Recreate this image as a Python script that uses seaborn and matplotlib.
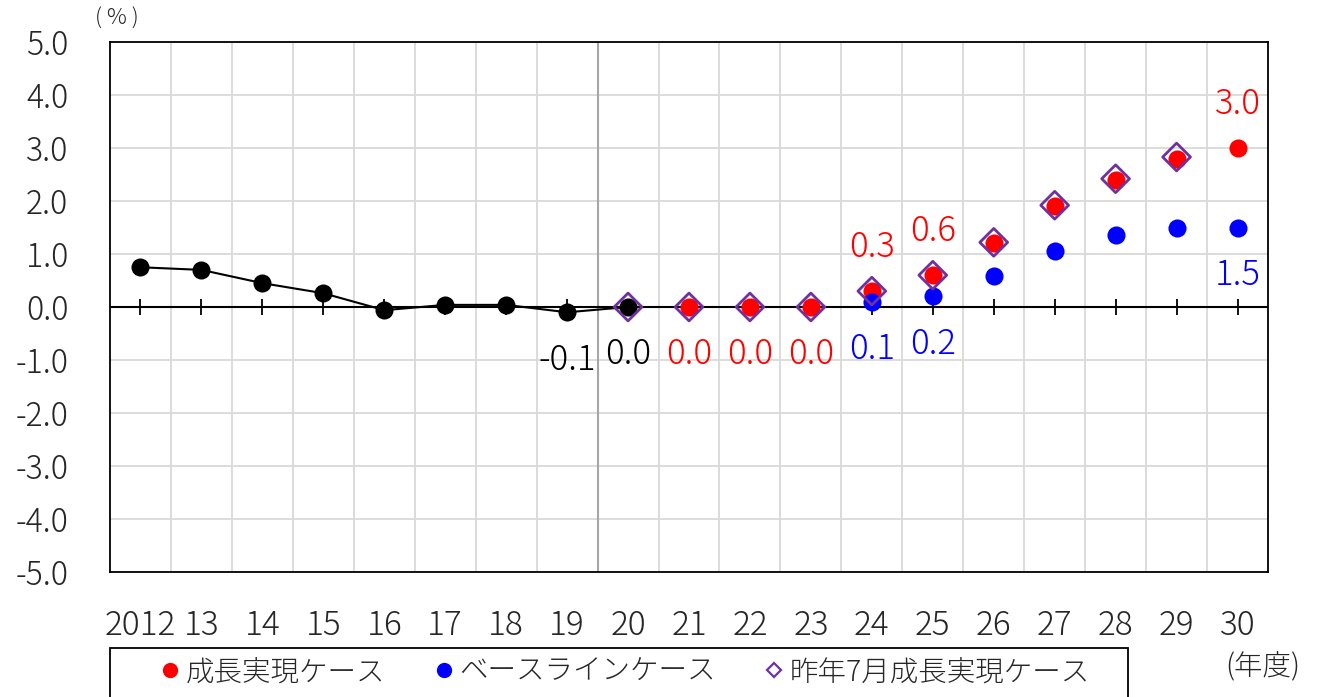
import matplotlib
matplotlib.use("Agg")
import matplotlib.pyplot as plt
from matplotlib.lines import Line2D
from matplotlib.patches import Rectangle
import seaborn as sns
import pandas as pd

# 年度 categories (fiscal years)
years = ["2012", "13", "14", "15", "16", "17", "18", "19", "20",
         "21", "22", "23", "24", "25", "26", "27", "28", "29", "30"]

# actual results 2012-2020
actual_years = ["2012", "13", "14", "15", "16", "17", "18", "19", "20"]
actual_vals = [0.75, 0.70, 0.45, 0.26, -0.06, 0.04, 0.04, -0.1, 0.0]

# 成長実現ケース
growth_years = ["21", "22", "23", "24", "25", "26", "27", "28", "29", "30"]
growth_vals = [0.0, 0.0, 0.0, 0.3, 0.6, 1.2, 1.9, 2.4, 2.8, 3.0]

# ベースラインケース
base_years = ["24", "25", "26", "27", "28", "29", "30"]
base_vals = [0.1, 0.2, 0.58, 1.06, 1.36, 1.49, 1.5]

# 昨年7月成長実現ケース
prev_years = ["20", "21", "22", "23", "24", "25", "26", "27", "28", "29"]
prev_vals = [0.0, 0.0, 0.0, 0.0, 0.3, 0.6, 1.22, 1.92, 2.42, 2.83]

# value labels: (year, value, colour, above?)
labels = [
    ("19", -0.1, "black", False),
    ("20", 0.0, "black", False),
    ("21", 0.0, "red", False),
    ("22", 0.0, "red", False),
    ("23", 0.0, "red", False),
    ("24", 0.1, "blue", False),
    ("25", 0.2, "blue", False),
    ("24", 0.3, "red", True),
    ("25", 0.6, "red", True),
    ("30", 3.0, "red", True),
    ("30", 1.5, "blue", False),
]

yticks = [5.0, 4.0, 3.0, 2.0, 1.0, 0.0, -1.0, -2.0, -3.0, -4.0, -5.0]

sns.set_theme(style="white")
plt.rcParams["font.family"] = ["Noto Sans CJK JP", "DejaVu Sans"]
plt.rcParams["font.weight"] = "light"

pos = {y: i for i, y in enumerate(years)}

df_act = pd.DataFrame({"x": [pos[y] for y in actual_years], "v": actual_vals})
df_gro = pd.DataFrame({"x": [pos[y] for y in growth_years], "v": growth_vals})
df_bas = pd.DataFrame({"x": [pos[y] for y in base_years], "v": base_vals})
df_prv = pd.DataFrame({"x": [pos[y] for y in prev_years], "v": prev_vals})

W, H = 1317, 697
fig = plt.figure(figsize=(W / 100, H / 100), dpi=100)
ax = fig.add_axes([110 / W, 1 - 572 / H, (1268 - 110) / W, (572 - 42) / H])

RED = "#FF0000"
BLUE = "#0000FF"
PURPLE = "#7030A0"

# zero line
ax.axhline(0, color="black", linewidth=1.5, zorder=2)

sns.lineplot(data=df_act, x="x", y="v", ax=ax, color="black", linewidth=1.5,
             marker="o", markersize=13, markeredgewidth=0, zorder=3)
sns.scatterplot(data=df_gro, x="x", y="v", ax=ax, color=RED, s=170,
                linewidth=0, zorder=4)
sns.scatterplot(data=df_bas, x="x", y="v", ax=ax, color=BLUE, s=170,
                linewidth=0, zorder=5)
sns.scatterplot(data=df_prv, x="x", y="v", ax=ax, marker="D", s=200,
                facecolor="none", edgecolor=PURPLE, linewidth=2, zorder=6)

for yr, val, col, above in labels:
    ax.annotate(f"{val:.1f}", (pos[yr], val), xytext=(0, 32 if above else -34),
                textcoords="offset points", ha="center", va="center",
                fontsize=25, color=col, zorder=7)

ax.set_xlim(-0.5, len(years) - 0.5)
ax.set_ylim(-5, 5)
ax.set_xlabel("")
ax.set_ylabel("")

# category labels along the bottom, grid between categories
ax.set_xticks(range(len(years)))
ax.set_xticklabels(years)
ax.set_xticks([i + 0.5 for i in range(len(years) - 1)], minor=True)
ax.tick_params(axis="x", which="both", length=0, labelsize=24, pad=26)
ax.set_yticks(yticks)
ax.set_yticklabels([f"{v:.1f}" for v in yticks])
ax.tick_params(axis="y", length=0, labelsize=23, pad=30)
ax.grid(True, axis="y", which="major", color="#D9D9D9", linewidth=1.3)
ax.grid(True, axis="x", which="minor", color="#D9D9D9", linewidth=1.3)
ax.set_axisbelow(True)
for s in ax.spines.values():
    s.set_visible(True)
    s.set_color("black")
    s.set_linewidth(1.3)

# boundary between actual and projected years
ax.axvline(pos["20"] - 0.5, color="#A6A6A6", linewidth=1.5, zorder=1)

# tick marks crossing the zero line
sec = ax.secondary_xaxis(0, transform=ax.transData)
sec.set_xticks(range(len(years)))
sec.tick_params(axis="x", direction="inout", length=12, width=1.3,
                color="black", labelbottom=False, labeltop=False)
sec.spines["bottom"].set_visible(False)
sec.patch.set_visible(False)

fig.text(117 / W, 1 - 19 / H, "( % )", ha="center", va="center", fontsize=16)
fig.text(1263 / W, 1 - 667 / H, "(年度)", ha="center", va="center", fontsize=20.5)

handles = [
    Line2D([], [], linestyle="none", marker="o", markersize=11,
           markerfacecolor=RED, markeredgewidth=0),
    Line2D([], [], linestyle="none", marker="o", markersize=11,
           markerfacecolor=BLUE, markeredgewidth=0),
    Line2D([], [], linestyle="none", marker="D", markersize=7.5,
           markerfacecolor="none", markeredgecolor=PURPLE, markeredgewidth=1.6),
]
names = ["成長実現ケース", "ベースラインケース", "昨年7月成長実現ケース"]
leg = fig.legend(handles, names, ncol=3, mode="expand",
                 bbox_to_anchor=(160 / W, 1 - 690 / H, (1090 - 160) / W, 36 / H),
                 loc="center", fontsize=20.5, frameon=False,
                 handlelength=0.7, handletextpad=0.2, borderpad=0,
                 borderaxespad=0)

# legend box, running off the bottom edge
fig.add_artist(Rectangle((110 / W, -0.05), (1128 - 110) / W, 0.05 + (697 - 648) / H,
                         transform=fig.transFigure, facecolor="none",
                         edgecolor="black", linewidth=1.3))

fig.savefig("out.png", dpi=100)
